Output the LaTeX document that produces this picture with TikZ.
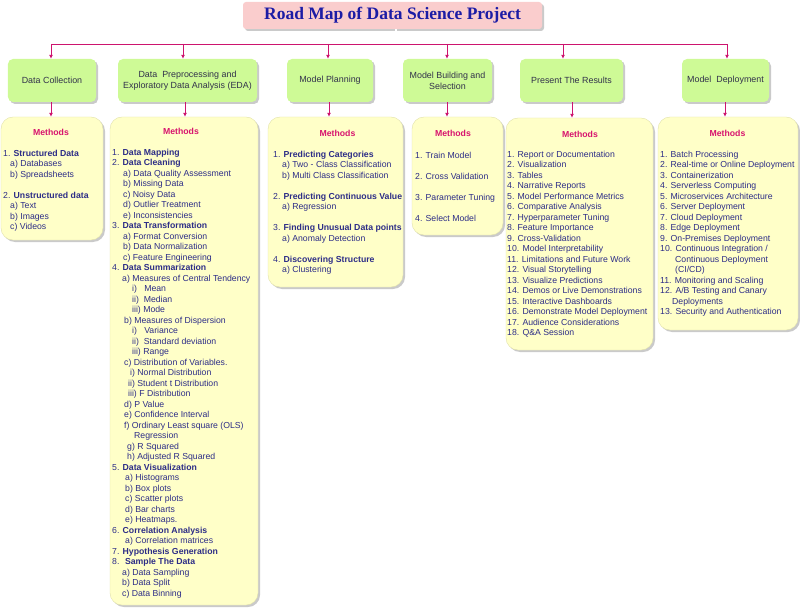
\documentclass[tikz,border=0pt]{standalone}
\usepackage{fontspec}
\setmainfont{Liberation Sans}
\newfontfamily\titleserif{Liberation Serif}
\usetikzlibrary{shadows,arrows.meta}
\definecolor{titlepink}{RGB}{250,205,205}
\definecolor{titleblue}{RGB}{28,28,165}
\definecolor{phasegreen}{RGB}{206,250,150}
\definecolor{phasetext}{RGB}{50,50,75}
\definecolor{methyellow}{RGB}{255,255,200}
\definecolor{methborder}{RGB}{225,225,170}
\definecolor{methred}{RGB}{215,20,110}
\definecolor{itemblue}{RGB}{45,45,135}
\definecolor{linkpink}{RGB}{205,20,110}
\tikzset{
  shadowed/.style={drop shadow={shadow xshift=2bp,shadow yshift=-2bp,opacity=0.35,fill=black!60}},
  titlebox/.style={fill=titlepink,rounded corners=3bp,shadowed,minimum width=299bp,minimum height=27bp,inner sep=0pt,
    font=\titleserif\bfseries\fontsize{17.5bp}{19bp}\selectfont,text=titleblue},
  phasebox/.style={fill=phasegreen,rounded corners=5bp,shadowed,inner sep=0pt,align=center,
    font=\fontsize{8.9bp}{11bp}\selectfont,text=phasetext,minimum height=43bp},
  methbox/.style={fill=methyellow,draw=methborder,line width=0.4bp,rounded corners=12bp,shadowed,inner sep=0pt},
  methlabel/.style={font=\bfseries\fontsize{8.7bp}{10bp}\selectfont,text=methred,inner sep=0pt},
  items/.style={anchor=north west,align=left,inner sep=0pt,text=itemblue,
    font=\fontsize{8.7bp}{10.5bp}\selectfont},
  link/.style={draw=linkpink,line width=0.8bp},
  linkarrow/.style={link,-{Latex[length=4bp,width=4bp]}},
}
\newcommand{\ii}[1]{\hspace*{#1bp}}
\begin{document}
\begin{tikzpicture}[x=1bp,y=-1bp]
\useasboundingbox (0,0) rectangle (800,610);
% title
\node[titlebox] (title) at (392.5,15.5) {Road Map of Data Science Project};
% phase boxes
\node[phasebox,minimum width=88bp]  (g1) at (52,80.5) {Data Collection};
\node[phasebox,minimum width=139bp] (g2) at (187.5,80.5) {Data\ \ Preprocessing and\\Exploratory Data Analysis (EDA)};
\node[phasebox,minimum width=86bp]  (g3) at (330,80.5) {Model Planning};
\node[phasebox,minimum width=89bp]  (g4) at (447.5,80.5) {Model Building and\\Selection};
\node[phasebox,minimum width=103bp] (g5) at (571.5,80.5) {Present The Results};
\node[phasebox,minimum width=87bp]  (g6) at (725.5,80.5) {Model\ \ Deployment};
% method boxes
\node[methbox,minimum width=102bp,minimum height=123bp] (y1) at (52,178.5) {};
\node[methbox,minimum width=148bp,minimum height=488bp] (y2) at (184,361) {};
\node[methbox,minimum width=135bp,minimum height=170bp] (y3) at (335.5,202) {};
\node[methbox,minimum width=91bp,minimum height=118bp]  (y4) at (457.5,176) {};
\node[methbox,minimum width=147bp,minimum height=232bp] (y5) at (579.5,234) {};
\node[methbox,minimum width=140bp,minimum height=213bp] (y6) at (728,223.5) {};
% connectors
\coordinate (tb) at (396,44);
\coordinate (h1) at (51,44);
\coordinate (h2) at (183,44);
\coordinate (h3) at (328,44);
\coordinate (h4) at (447,44);
\coordinate (h5) at (563,44);
\coordinate (h6) at (727,44);
\draw[link,double=white,double distance=1.6bp,line width=0.6bp] (title.south -| tb) -- (tb);
\draw[link] (h1) -- (h6);
\foreach \i in {1,...,6}{\draw[linkarrow] (h\i) -- (h\i |- g\i.north);}
\coordinate (b1) at (51,0);
\coordinate (b2) at (185,0);
\coordinate (b3) at (329,0);
\coordinate (b4) at (447,0);
\coordinate (b5) at (572,0);
\coordinate (b6) at (725,0);
\foreach \i in {1,...,6}{\draw[linkarrow] (b\i |- g\i.south) -- (b\i |- y\i.north);}
% Methods labels
\node[methlabel] (m1) at (51,132) {Methods};
\node[methlabel] (m2) at (181,131) {Methods};
\node[methlabel] (m3) at (337.5,133) {Methods};
\node[methlabel] (m4) at (453,133) {Methods};
\node[methlabel] (m5) at (580,134) {Methods};
\node[methlabel] (m6) at (727.5,133) {Methods};
% items
\node[items] (t1) at (3,149.5) {%
1. \textbf{Structured Data}\\
\ii{7}a) Databases\\
\ii{7}b) Spreadsheets\\[10.5bp]
2. \textbf{Unstructured data}\\
\ii{7}a) Text\\
\ii{7}b) Images\\
\ii{7}c) Videos};
\node[items] (t2) at (112,148.5) {%
1. \textbf{Data Mapping}\\
2. \textbf{Data Cleaning}\\
\ii{11}a) Data Quality Assessment\\
\ii{11}b) Missing Data\\
\ii{11}c) Noisy Data\\
\ii{11}d) Outlier Treatment\\
\ii{11}e) Inconsistencies\\
3. \textbf{Data Transformation}\\
\ii{11}a) Format Conversion\\
\ii{11}b) Data Normalization\\
\ii{11}c) Feature Engineering\\
4. \textbf{Data Summarization}\\
\ii{10}a) Measures of Central Tendency\\
\ii{20}i)\ \ \ Mean\\
\ii{20}ii)\ \ Median\\
\ii{20}iii) Mode\\
\ii{12}b) Measures of Dispersion\\
\ii{20}i)\ \ \ Variance\\
\ii{20}ii)\ \ Standard deviation\\
\ii{20}iii) Range\\
\ii{12}c) Distribution of Variables.\\
\ii{18}i) Normal Distribution\\
\ii{16}ii) Student t Distribution\\
\ii{16}iii) F Distribution\\
\ii{12}d) P Value\\
\ii{12}e) Confidence Interval\\
\ii{12}f) Ordinary Least square (OLS)\\
\ii{22}Regression\\
\ii{15}g) R Squared\\
\ii{15}h) Adjusted R Squared\\
5. \textbf{Data Visualization}\\
\ii{13}a) Histograms\\
\ii{13}b) Box plots\\
\ii{13}c) Scatter plots\\
\ii{13}d) Bar charts\\
\ii{13}e) Heatmaps.\\
6. \textbf{Correlation Analysis}\\
\ii{13}a) Correlation matrices\\
7. \textbf{Hypothesis Generation}\\
8. \ \textbf{Sample The Data}\\
\ii{10}a) Data Sampling\\
\ii{10}b) Data Split\\
\ii{10}c) Data Binning};
\node[items] (t3) at (273,150.5) {%
1. \textbf{Predicting Categories}\\
\ii{9}a) Two - Class Classification\\
\ii{9}b) Multi Class Classification\\[10.5bp]
2. \textbf{Predicting Continuous Value}\\
\ii{9}a) Regression\\[10.5bp]
3. \textbf{Finding Unusual Data points}\\
\ii{9}a) Anomaly Detection\\[10.5bp]
4. \textbf{Discovering Structure}\\
\ii{9}a) Clustering};
\node[items] (t4) at (415,151.5) {%
1. Train Model\\[10.5bp]
2. Cross Validation\\[10.5bp]
3. Parameter Tuning\\[10.5bp]
4. Select Model};
\node[items] (t5) at (507,150.5) {%
1. Report or Documentation\\
2. Visualization\\
3. Tables\\
4. Narrative Reports\\
5. Model Performance Metrics\\
6. Comparative Analysis\\
7. Hyperparameter Tuning\\
8. Feature Importance\\
9. Cross-Validation\\
10. Model Interpretability\\
11. Limitations and Future Work\\
12. Visual Storytelling\\
13. Visualize Predictions\\
14. Demos or Live Demonstrations\\
15. Interactive Dashboards\\
16. Demonstrate Model Deployment\\
17. Audience Considerations\\
18. Q\&A Session};
\node[items] (t6) at (660,150.5) {%
1. Batch Processing\\
2. Real-time or Online Deployment\\
3. Containerization\\
4. Serverless Computing\\
5. Microservices Architecture\\
6. Server Deployment\\
7. Cloud Deployment\\
8. Edge Deployment\\
9. On-Premises Deployment\\
10. Continuous Integration /\\
\ii{15}Continuous Deployment\\
\ii{15}(CI/CD)\\
11. Monitoring and Scaling\\
12. A/B Testing and Canary\\
\ii{12}Deployments\\
13. Security and Authentication};
\end{tikzpicture}
\end{document}
